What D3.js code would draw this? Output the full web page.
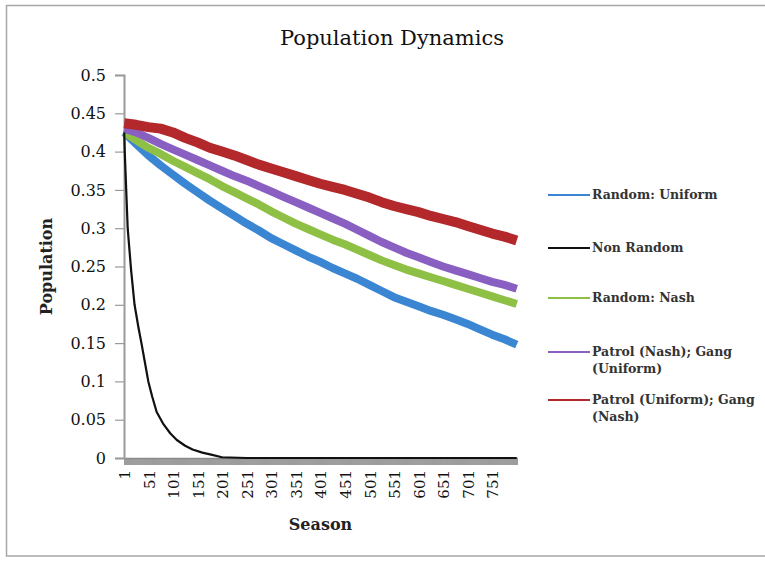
<!DOCTYPE html>
<html>
  <head>
    <meta charset="utf-8">
    <title>Population Dynamics</title>
    <style>
      body { margin: 0; background: #fff; overflow: hidden; }
      svg { display: block; }
      text { font-family: "DejaVu Serif", "Liberation Serif", serif; fill: #222; }
    </style>
  </head>
  <body>
    <div class='chart-container'></div>
    <script src="https://cdn.jsdelivr.net/npm/d3@7"></script>
    <script>
// values
var seasons = [1, 25, 50, 75, 100, 125, 150, 175, 200, 225, 250, 275, 300, 325, 350, 375, 400,
  425, 450, 475, 500, 525, 550, 575, 600, 625, 650, 675, 700, 725, 750, 775, 800];

var randomUniform = [0.425, 0.41, 0.395, 0.382, 0.37, 0.358, 0.347, 0.336, 0.326, 0.316, 0.306,
  0.297, 0.287, 0.279, 0.271, 0.263, 0.256, 0.248, 0.241, 0.234, 0.226, 0.218, 0.21, 0.204,
  0.198, 0.192, 0.187, 0.181, 0.175, 0.168, 0.161, 0.155, 0.148];

var randomNash = [0.425, 0.415, 0.405, 0.397, 0.388, 0.38, 0.372, 0.364, 0.355, 0.347, 0.339,
  0.331, 0.322, 0.314, 0.306, 0.299, 0.292, 0.285, 0.279, 0.272, 0.265, 0.258, 0.252, 0.246,
  0.241, 0.236, 0.231, 0.226, 0.221, 0.216, 0.211, 0.206, 0.201];

var patrolNashGangUniform = [0.43, 0.425, 0.418, 0.41, 0.403, 0.396, 0.389, 0.382, 0.375, 0.368,
  0.362, 0.355, 0.348, 0.341, 0.334, 0.327, 0.32, 0.313, 0.306, 0.298, 0.29, 0.282, 0.275, 0.268,
  0.262, 0.256, 0.25, 0.245, 0.24, 0.235, 0.23, 0.226, 0.221];

var patrolUniformGangNash = [0.437, 0.435, 0.432, 0.43, 0.425, 0.418, 0.412, 0.405, 0.4, 0.395,
  0.389, 0.383, 0.378, 0.373, 0.368, 0.363, 0.358, 0.354, 0.35, 0.345, 0.34, 0.334, 0.329, 0.325,
  0.321, 0.316, 0.312, 0.308, 0.303, 0.298, 0.293, 0.289, 0.284];

var nonRandomSeasons = [1, 2, 5, 8, 15, 22, 30, 36, 43, 50, 58, 67, 80, 95, 108, 125, 140, 160,
  180, 200, 250, 300, 400, 500, 600, 700, 800];
var nonRandom = [0.425, 0.4, 0.35, 0.3, 0.245, 0.2, 0.17, 0.15, 0.125, 0.1, 0.08, 0.06, 0.045,
  0.032, 0.0235, 0.016, 0.011, 0.007, 0.004, 0.001, 0, 0, 0, 0, 0, 0, 0];

var seriesNames = ['Random: Uniform', 'Non Random', 'Random: Nash',
  'Patrol (Nash); Gang (Uniform)', 'Patrol (Uniform); Gang (Nash)'];
var seriesColors = ['#3b86d3', '#111111', '#8fc046', '#8a5fc2', '#b3282b'];

var xTickLabels = [1, 51, 101, 151, 201, 251, 301, 351, 401, 451, 501, 551, 601, 651, 701, 751];
var yTickLabels = [0, 0.05, 0.1, 0.15, 0.2, 0.25, 0.3, 0.35, 0.4, 0.45, 0.5];

var W = 765, H = 561;
var margin = {top: 75, left: 124, right: 248, bottom: 103};

var svg = d3.select('.chart-container').append('svg')
    .attr('width', W)
    .attr('height', H);

// outer frame (open on the right, as in the cropped original)
svg.append('path')
    .attr('d', 'M' + W + ',5.5H6.5V556H' + W)
    .style('fill', 'none')
    .style('stroke', '#a8a8a8')
    .style('stroke-width', 1.5);

var x = d3.scaleLinear()
    .domain([0.5, 800.5])
    .range([margin.left, W - margin.right]);

var y = d3.scaleLinear()
    .domain([0, 0.5])
    .range([H - margin.bottom, margin.top]);

// dense category ticks make the grey band under the axis
var catTicks = [];
for (var i = 0; i <= 800; i++) catTicks.push(i + 0.5);

svg.append('g')
    .attr('transform', 'translate(0,' + y(0) + ')')
    .call(d3.axisBottom(x).tickValues(catTicks).tickSize(7).tickFormat(''))
    .call(g => g.select('.domain').remove())
    .call(g => g.selectAll('line').style('stroke', '#9c9c9c').style('stroke-width', 1));

// x labels
var xAxis = svg.append('g')
    .attr('transform', 'translate(0,' + y(0) + ')')
    .call(d3.axisBottom(x).tickValues(xTickLabels).tickSize(0).tickFormat(d3.format('d')));
xAxis.select('.domain').style('stroke', '#8a8a8a').style('stroke-width', 1.5);
xAxis.selectAll('text')
    .style('font-size', '15px')
    .style('font-family', '"DejaVu Serif", serif')
    .style('fill', '#111')
    .attr('text-anchor', 'end')
    .attr('transform', 'rotate(-90)')
    .attr('x', -12)
    .attr('y', 0)
    .attr('dy', '0.35em');

// y axis
var yAxis = svg.append('g')
    .attr('transform', 'translate(' + margin.left + ',0)')
    .call(d3.axisLeft(y).tickValues(yTickLabels).tickSize(9).tickPadding(9)
      .tickFormat(d => String(d)));
yAxis.select('.domain').style('stroke', '#9a9a9a').style('stroke-width', 2);
yAxis.selectAll('line').style('stroke', '#9a9a9a').style('stroke-width', 1.2);
yAxis.selectAll('text')
    .style('font-size', '16px')
    .style('font-family', '"DejaVu Serif", serif')
    .style('fill', '#111');

var line = d3.line()
    .x(d => x(d[0]))
    .y(d => y(d[1]));

var seriesData = [
  d3.zip(seasons, randomUniform),
  d3.zip(nonRandomSeasons, nonRandom),
  d3.zip(seasons, randomNash),
  d3.zip(seasons, patrolNashGangUniform),
  d3.zip(seasons, patrolUniformGangNash)
];
var strokeWidths = [8, 2.2, 8, 8, 10];
var drawOrder = [0, 2, 3, 4, 1];

var plot = svg.append('g').attr('class', 'lines');
drawOrder.forEach(function(k) {
  plot.append('path')
      .attr('d', line(seriesData[k]))
      .style('fill', 'none')
      .style('stroke', seriesColors[k])
      .style('stroke-width', strokeWidths[k])
      .style('stroke-linejoin', 'round')
      .style('stroke-linecap', 'butt');
});

// title and axis titles
svg.append('text')
    .attr('x', 392).attr('y', 45)
    .attr('text-anchor', 'middle')
    .style('font-size', '21px')
    .style('fill', '#111')
    .text('Population Dynamics');

svg.append('text')
    .attr('x', (x.range()[0] + x.range()[1]) / 2)
    .attr('y', 530)
    .attr('text-anchor', 'middle')
    .style('font-size', '16px')
    .style('font-weight', 'bold')
    .text('Season');

svg.append('text')
    .attr('transform', 'translate(52,' + ((y(0) + y(0.5)) / 2) + ') rotate(-90)')
    .attr('text-anchor', 'middle')
    .style('font-size', '16px')
    .style('font-weight', 'bold')
    .text('Population');

// legend
var legendRows = [
  {lines: ['Random: Uniform'], y: 195},
  {lines: ['Non Random'], y: 248},
  {lines: ['Random: Nash'], y: 298},
  {lines: ['Patrol (Nash); Gang', '(Uniform)'], y: 352},
  {lines: ['Patrol (Uniform); Gang', '(Nash)'], y: 400}
];

var legend = svg.append('g').attr('class', 'legend');
legendRows.forEach(function(r, k) {
  legend.append('line')
      .attr('x1', 548).attr('x2', 590)
      .attr('y1', r.y).attr('y2', r.y)
      .style('stroke', seriesColors[k])
      .style('stroke-width', 1.8);
  var t = legend.append('text')
      .attr('x', 592)
      .attr('y', r.y)
      .style('font-size', '12.5px')
      .style('font-weight', 'bold')
      .style('fill', '#333');
  r.lines.forEach(function(s, j) {
    t.append('tspan')
        .attr('x', 592)
        .attr('dy', j === 0 ? '0.35em' : '1.3em')
        .text(s);
  });
});
    </script>
  </body>
</html>
